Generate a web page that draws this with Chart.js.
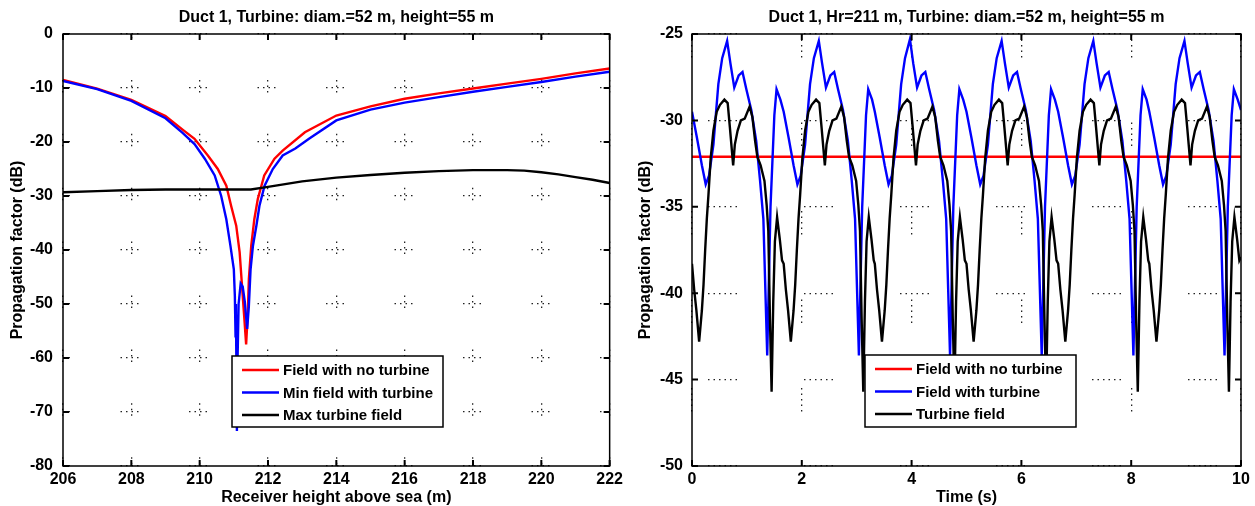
<!DOCTYPE html>
<html>
<head>
<meta charset="utf-8">
<script src="https://cdn.jsdelivr.net/npm/chart.js@4.4.1/dist/chart.umd.min.js"></script>
<style>
  html, body { margin: 0; padding: 0; background: #fff; }
  #wrap { position: relative; width: 1255px; height: 506px; }
  canvas { position: absolute; top: 0; }
  #heightChart { left: 0; }
  #timeChart { left: 627px; }
</style>
</head>
<body>
<div id="wrap">
  <canvas id="heightChart" width="627" height="506"></canvas>
  <canvas id="timeChart" width="628" height="506"></canvas>
</div>
<script>
// ---- left panel: propagation factor vs receiver height ----
const noTurbineHeight = [206.0, 207.0, 208.0, 209.0, 209.5, 209.85, 210.24, 210.53, 210.78, 210.92, 211.07,
  211.17, 211.24, 211.31, 211.36, 211.41, 211.44, 211.51, 211.6, 211.7, 211.89, 212.19, 212.43, 213.08,
  214.0, 215.0, 216.0, 217.0, 218.0, 219.0, 220.0, 221.0, 222.0];
const noTurbineDbH = [-8.5, -10.1, -12.2, -15.2, -17.7, -19.4, -22.5, -25.0, -28.1, -31.8, -35.5,
  -40.4, -46.7, -52.9, -57.5, -51.6, -45.4, -39.2, -34.3, -30.6, -26.2, -23.1, -21.6, -18.2,
  -15.1, -13.4, -12.0, -11.0, -10.1, -9.2, -8.3, -7.3, -6.4];

const minFieldHeight = [206.0, 207.0, 208.0, 209.0, 209.5, 209.85, 210.15, 210.44, 210.63, 210.78, 210.9,
  211.0, 211.03, 211.05, 211.06, 211.08, 211.09, 211.11, 211.14, 211.2, 211.26, 211.32, 211.39, 211.44,
  211.49, 211.56, 211.66, 211.75, 211.9, 212.14, 212.43, 212.8, 213.2, 214.0, 215.0, 216.0, 217.0,
  218.0, 219.0, 220.0, 221.0, 222.0];
const minFieldDb = [-8.7, -10.2, -12.4, -15.6, -18.3, -20.4, -23.1, -26.2, -30.0, -34.3, -39.2,
  -43.6, -48.5, -56.0, -50.0, -65.0, -73.5, -60.0, -50.0, -46.2, -46.8, -49.5, -54.6, -50.4,
  -43.6, -39.2, -35.5, -31.8, -28.1, -25.0, -22.5, -21.2, -19.4, -16.0, -14.0, -12.7, -11.7,
  -10.7, -9.8, -8.9, -7.9, -7.0];

const maxTurbineHeight = [206, 207, 208, 209, 210, 211, 211.5, 212, 212.5, 213, 214, 215, 216, 217,
  218, 219, 219.5, 220, 220.5, 221, 221.5, 222];
const maxTurbineDb = [-29.3, -29.1, -28.9, -28.8, -28.8, -28.8, -28.8, -28.3, -27.8, -27.3, -26.6, -26.1,
  -25.7, -25.4, -25.2, -25.2, -25.3, -25.6, -26.0, -26.5, -27.0, -27.6];

// ---- right panel: propagation factor vs time (Hr = 211 m) ----
const noTurbineTime = [0, 10];
const noTurbineDbT = [-32.1, -32.1];

const withTurbineTime = [
  0.00, 0.09, 0.18, 0.25, 0.31, 0.39, 0.48, 0.55, 0.64, 0.70, 0.77, 0.85, 0.92, 0.99, 1.08, 1.17, 1.24, 1.30, 1.37, 1.43, 1.50, 1.54, 1.61,
  1.67, 1.76, 1.85, 1.92, 1.98, 2.06, 2.15, 2.22, 2.31, 2.37, 2.44, 2.52, 2.59, 2.66, 2.75, 2.84, 2.91, 2.97, 3.04, 3.10, 3.17, 3.21, 3.28,
  3.33, 3.42, 3.51, 3.58, 3.64, 3.72, 3.81, 3.88, 3.97, 4.03, 4.10, 4.18, 4.25, 4.32, 4.41, 4.50, 4.57, 4.63, 4.70, 4.76, 4.83, 4.87, 4.94,
  5.00, 5.09, 5.18, 5.25, 5.31, 5.39, 5.48, 5.55, 5.64, 5.70, 5.77, 5.85, 5.92, 5.99, 6.08, 6.17, 6.24, 6.30, 6.37, 6.43, 6.50, 6.54, 6.61,
  6.67, 6.76, 6.85, 6.92, 6.98, 7.06, 7.15, 7.22, 7.31, 7.37, 7.44, 7.52, 7.59, 7.66, 7.75, 7.84, 7.91, 7.97, 8.04, 8.10, 8.17, 8.21, 8.28,
  8.33, 8.42, 8.51, 8.58, 8.64, 8.72, 8.81, 8.88, 8.97, 9.03, 9.10, 9.18, 9.25, 9.32, 9.41, 9.50, 9.57, 9.63, 9.70, 9.76, 9.83, 9.87, 9.94,
  10.00];
const withTurbineDb = [
  -29.5, -31.0, -32.6, -33.7, -33.2, -31.4, -27.9, -26.4, -25.4, -26.7, -28.1, -27.4, -27.2, -28.2, -29.4, -31.2, -33.5, -35.7, -43.6, -35.0, -29.7, -28.2, -28.8,
  -29.5, -31.0, -32.6, -33.7, -33.2, -31.4, -27.9, -26.4, -25.4, -26.7, -28.1, -27.4, -27.2, -28.2, -29.4, -31.2, -33.5, -35.7, -43.6, -35.0, -29.7, -28.2, -28.8,
  -29.5, -31.0, -32.6, -33.7, -33.2, -31.4, -27.9, -26.4, -25.3, -26.7, -28.1, -27.4, -27.2, -28.2, -29.4, -31.2, -33.5, -35.7, -43.6, -35.0, -29.7, -28.2, -28.8,
  -29.5, -31.0, -32.6, -33.7, -33.2, -31.4, -27.9, -26.4, -25.4, -26.7, -28.1, -27.4, -27.2, -28.2, -29.4, -31.2, -33.5, -35.7, -43.6, -35.0, -29.7, -28.2, -28.8,
  -29.5, -31.0, -32.6, -33.7, -33.2, -31.4, -27.9, -26.4, -25.4, -26.7, -28.1, -27.4, -27.2, -28.2, -29.4, -31.2, -33.5, -35.7, -43.6, -35.0, -29.7, -28.2, -28.8,
  -29.5, -31.0, -32.6, -33.7, -33.2, -31.4, -27.9, -26.4, -25.4, -26.7, -28.1, -27.4, -27.2, -28.2, -29.4, -31.2, -33.5, -35.7, -43.6, -35.0, -29.7, -28.2, -28.8,
  -29.4];

const turbineTime = [
  0.00, 0.04, 0.08, 0.13, 0.18, 0.21, 0.24, 0.27, 0.30, 0.34, 0.39, 0.45, 0.51, 0.59, 0.65, 0.69, 0.75, 0.78, 0.83, 0.89, 0.96, 1.05, 1.10, 1.15, 1.19, 1.25, 1.32, 1.36, 1.39, 1.42, 1.45, 1.48, 1.51, 1.55, 1.60, 1.64,
  1.67, 1.71, 1.75, 1.80, 1.85, 1.88, 1.91, 1.94, 1.97, 2.01, 2.06, 2.12, 2.18, 2.26, 2.32, 2.36, 2.42, 2.45, 2.50, 2.56, 2.63, 2.72, 2.77, 2.82, 2.86, 2.92, 2.99, 3.03, 3.06, 3.09, 3.12, 3.15, 3.18, 3.22, 3.27, 3.31,
  3.33, 3.37, 3.41, 3.46, 3.51, 3.54, 3.57, 3.60, 3.63, 3.67, 3.72, 3.78, 3.84, 3.92, 3.98, 4.02, 4.08, 4.11, 4.16, 4.22, 4.29, 4.38, 4.43, 4.48, 4.52, 4.58, 4.65, 4.69, 4.72, 4.75, 4.78, 4.81, 4.84, 4.88, 4.93, 4.97,
  5.00, 5.04, 5.08, 5.13, 5.18, 5.21, 5.24, 5.27, 5.30, 5.34, 5.39, 5.45, 5.51, 5.59, 5.65, 5.69, 5.75, 5.78, 5.83, 5.89, 5.96, 6.05, 6.10, 6.15, 6.19, 6.25, 6.32, 6.36, 6.39, 6.42, 6.45, 6.48, 6.51, 6.55, 6.60, 6.64,
  6.67, 6.71, 6.75, 6.80, 6.85, 6.88, 6.91, 6.94, 6.97, 7.01, 7.06, 7.12, 7.18, 7.26, 7.32, 7.36, 7.42, 7.45, 7.50, 7.56, 7.63, 7.72, 7.77, 7.82, 7.86, 7.92, 7.99, 8.03, 8.06, 8.09, 8.12, 8.15, 8.18, 8.22, 8.27, 8.31,
  8.33, 8.37, 8.41, 8.46, 8.51, 8.54, 8.57, 8.60, 8.63, 8.67, 8.72, 8.78, 8.84, 8.92, 8.98, 9.02, 9.08, 9.11, 9.16, 9.22, 9.29, 9.38, 9.43, 9.48, 9.52, 9.58, 9.65, 9.69, 9.72, 9.75, 9.78, 9.81, 9.84, 9.88, 9.93, 9.97,
  10.00];
const turbineDb = [
  -38.3, -39.8, -41.0, -42.8, -41.0, -39.5, -37.5, -35.7, -34.3, -32.2, -30.6, -29.5, -29.1, -28.8, -29.0, -30.4, -32.6, -31.4, -30.6, -30.0, -29.9, -29.2, -29.8, -31.2, -32.1, -32.6, -33.5, -34.9, -36.4, -41.5, -45.7, -40.5, -37.0, -35.6, -36.9, -38.1,
  -38.3, -39.8, -41.0, -42.8, -41.0, -39.5, -37.5, -35.7, -34.3, -32.2, -30.6, -29.5, -29.1, -28.8, -29.0, -30.4, -32.6, -31.4, -30.6, -30.0, -29.9, -29.2, -29.8, -31.2, -32.1, -32.6, -33.5, -34.9, -36.4, -41.5, -45.7, -40.5, -37.0, -35.6, -36.9, -38.1,
  -38.3, -39.8, -41.0, -42.8, -41.0, -39.5, -37.5, -35.7, -34.3, -32.2, -30.6, -29.5, -29.1, -28.8, -29.0, -30.4, -32.6, -31.4, -30.6, -30.0, -29.9, -29.2, -29.8, -31.2, -32.1, -32.6, -33.5, -34.9, -36.4, -41.5, -45.7, -40.5, -37.0, -35.6, -36.9, -38.1,
  -38.3, -39.8, -41.0, -42.8, -41.0, -39.5, -37.5, -35.7, -34.3, -32.2, -30.6, -29.5, -29.1, -28.8, -29.0, -30.4, -32.6, -31.4, -30.6, -30.0, -29.9, -29.2, -29.8, -31.2, -32.1, -32.6, -33.5, -34.9, -36.4, -41.5, -45.7, -40.5, -37.0, -35.6, -36.9, -38.1,
  -38.3, -39.8, -41.0, -42.8, -41.0, -39.5, -37.5, -35.7, -34.3, -32.2, -30.6, -29.5, -29.1, -28.8, -29.0, -30.4, -32.6, -31.4, -30.6, -30.0, -29.9, -29.2, -29.8, -31.2, -32.1, -32.6, -33.5, -34.9, -36.4, -41.5, -45.7, -40.5, -37.0, -35.6, -36.9, -38.1,
  -38.3, -39.8, -41.0, -42.8, -41.0, -39.5, -37.5, -35.7, -34.3, -32.2, -30.6, -29.5, -29.1, -28.8, -29.0, -30.4, -32.6, -31.4, -30.6, -30.0, -29.9, -29.2, -29.8, -31.2, -32.1, -32.6, -33.5, -34.9, -36.4, -41.5, -45.7, -40.5, -37.0, -35.6, -36.9, -38.1,
  -37.9];

const FONT = '"Liberation Sans", Arial, Helvetica, sans-serif';
Chart.defaults.font.family = FONT;
Chart.defaults.font.weight = 'bold';
Chart.defaults.color = '#000';

function toPoints(xs, ys) {
  return xs.map((x, i) => ({ x: x, y: ys[i] }));
}

// matlab-ish dotted grid: groups of dots then a gap
function dotGroup(count, gap) {
  const d = [];
  for (let i = 0; i < count; i++) d.push(1.5, 4);
  d[d.length - 1] += gap;
  return d;
}

// box, inward ticks, title and legend drawn over the plot
const matlabFrame = {
  id: 'matlabFrame',
  afterDatasetsDraw(chart, args, opts) {
    const { ctx, chartArea: a, scales } = chart;
    ctx.save();
    ctx.strokeStyle = '#000';
    ctx.lineWidth = 2;
    ctx.beginPath();
    scales.x.ticks.forEach(t => {
      const px = scales.x.getPixelForValue(t.value);
      ctx.moveTo(px, a.bottom); ctx.lineTo(px, a.bottom - 6);
      ctx.moveTo(px, a.top); ctx.lineTo(px, a.top + 6);
    });
    scales.y.ticks.forEach(t => {
      const py = scales.y.getPixelForValue(t.value);
      ctx.moveTo(a.left, py); ctx.lineTo(a.left + 6, py);
      ctx.moveTo(a.right, py); ctx.lineTo(a.right - 6, py);
    });
    ctx.stroke();
    ctx.lineWidth = 1.5;
    ctx.strokeRect(a.left, a.top, a.right - a.left, a.bottom - a.top);

    // title
    ctx.fillStyle = '#000';
    ctx.font = 'bold 16px ' + FONT;
    ctx.textAlign = 'center';
    ctx.textBaseline = 'middle';
    ctx.fillText(opts.title, (a.left + a.right) / 2, 18);

    // legend box
    const lx = a.left + opts.legend.dx, ly = a.top + opts.legend.dy;
    ctx.fillStyle = '#fff';
    ctx.fillRect(lx, ly, opts.legend.w, opts.legend.h);
    ctx.lineWidth = 1.5;
    ctx.strokeRect(lx, ly, opts.legend.w, opts.legend.h);
    ctx.textAlign = 'left';
    ctx.font = 'bold 15px ' + FONT;
    chart.data.datasets.forEach((ds, i) => {
      const ry = ly + 14 + i * 22.5;
      ctx.strokeStyle = ds.borderColor;
      ctx.lineWidth = 2.4;
      ctx.beginPath();
      ctx.moveTo(lx + 10, ry); ctx.lineTo(lx + 47, ry);
      ctx.stroke();
      ctx.fillStyle = '#000';
      ctx.fillText(ds.label, lx + 51, ry + 1);
    });
    ctx.restore();
  }
};

function axisFont() {
  return { size: 16, weight: 'bold', family: FONT };
}

function makePanel(canvasId, panel) {
  return new Chart(document.getElementById(canvasId), {
    type: 'line',
    data: { datasets: panel.datasets },
    options: {
      responsive: false,
      animation: false,
      layout: { padding: { left: 0, right: panel.padRight, top: 34, bottom: 0 } },
      elements: { point: { radius: 0 }, line: { tension: 0, borderWidth: 2.4 } },
      plugins: {
        legend: { display: false },
        tooltip: { enabled: false },
        matlabFrame: { title: panel.title, legend: panel.legend }
      },
      scales: {
        x: {
          type: 'linear',
          min: panel.xMin, max: panel.xMax,
          ticks: { stepSize: panel.xStep, autoSkip: false, maxRotation: 0, padding: 4, font: axisFont(), color: '#000' },
          grid: { color: '#222', lineWidth: 1.3, drawTicks: false },
          border: { display: false, dash: panel.xDash, dashOffset: panel.xDashOffset },
          title: { display: true, text: panel.xTitle, font: { size: 16, weight: 'bold', lineHeight: 1 }, padding: 0, color: '#000' },
          afterFit: s => { s.height = 40; }
        },
        y: {
          type: 'linear',
          min: panel.yMin, max: panel.yMax,
          ticks: { stepSize: panel.yStep, autoSkip: false, padding: panel.yTickPad, font: axisFont(), color: '#000' },
          grid: { color: '#222', lineWidth: 1.3, drawTicks: false },
          border: { display: false, dash: panel.yDash, dashOffset: panel.yDashOffset },
          title: { display: true, text: 'Propagation factor (dB)', font: { size: 16, weight: 'bold', lineHeight: 1 }, padding: { top: panel.yTitlePad, bottom: 0 }, color: '#000' },
          afterFit: s => { s.width = panel.yWidth; }
        }
      }
    },
    plugins: [matlabFrame]
  });
}

makePanel('heightChart', {
  title: 'Duct 1, Turbine: diam.=52 m, height=55 m',
  xTitle: 'Receiver height above sea (m)',
  xMin: 206, xMax: 222, xStep: 2,
  yMin: -80, yMax: 0, yStep: 10,
  padRight: 16, yWidth: 63, yTickPad: 10, yTitlePad: 10,
  xDash: dotGroup(3, 37.4), xDashOffset: 8,
  yDash: dotGroup(4, 46.5), yDashOffset: 11,
  legend: { dx: 169, dy: 322, w: 211, h: 71 },
  datasets: [
    { label: 'Field with no turbine', data: toPoints(noTurbineHeight, noTurbineDbH), borderColor: '#ff0000', order: 3 },
    { label: 'Min field with turbine', data: toPoints(minFieldHeight, minFieldDb), borderColor: '#0000ff', order: 2 },
    { label: 'Max turbine field', data: toPoints(maxTurbineHeight, maxTurbineDb), borderColor: '#000000', order: 1 }
  ]
});

makePanel('timeChart', {
  title: 'Duct 1, Hr=211 m, Turbine: diam.=52 m, height=55 m',
  xTitle: 'Time (s)',
  xMin: 0, xMax: 10, xStep: 2,
  yMin: -50, yMax: -25, yStep: 5,
  padRight: 14, yWidth: 65, yTickPad: 9, yTitlePad: 11,
  xDash: dotGroup(5, 61), xDashOffset: 0,
  yDash: dotGroup(6, 63), yDashOffset: 80,
  legend: { dx: 173, dy: 321, w: 211, h: 72 },
  datasets: [
    { label: 'Field with no turbine', data: toPoints(noTurbineTime, noTurbineDbT), borderColor: '#ff0000', order: 3 },
    { label: 'Field with turbine', data: toPoints(withTurbineTime, withTurbineDb), borderColor: '#0000ff', order: 2 },
    { label: 'Turbine field', data: toPoints(turbineTime, turbineDb), borderColor: '#000000', order: 1 }
  ]
});
</script>
</body>
</html>
